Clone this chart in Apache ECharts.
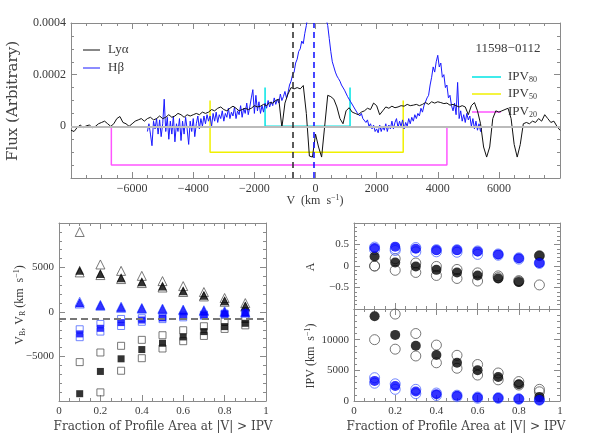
<!DOCTYPE html>
<html>
<head>
<meta charset="utf-8">
<script src="https://cdn.jsdelivr.net/npm/echarts@6/dist/echarts.min.js"></script>
<style>
html, body { margin: 0; padding: 0; background: #fff; }
#chart { width: 589px; height: 445px; }
</style>
</head>
<body>
<div id="chart"></div>
<script>
// ---- top panel: spectra (flux in units of 1e-4) ----
var lyaStart = -8000, lyaStep = 100;
var lyaFlux = [
  // -8000 .. -7100
  -0.15, -0.2, -0.05, 0.05, -0.05, 0.02, 0.05, -0.05, 0.0, 0.1,
  // -7000 .. -6100
  0.15, 0.2, 0.1, 0.0, 0.1, 0.3, 0.38, 0.15, 0.1, 0.0,
  // -6000 .. -5100
  0.1, 0.2, 0.25, 0.3, 0.2, 0.3, 0.35, 0.25, 0.3, 0.4,
  // -5000 .. -4100
  0.3, 0.35, 0.45, 0.35, 0.4, 0.5, 0.45, 0.35, 0.45, 0.4,
  // -4000 .. -3100
  0.45, 0.5, 0.45, 0.55, 0.5, 0.55, 0.65, 0.6, 0.7, 0.75,
  // -3000 .. -2100
  0.65, 0.6, 0.7, 0.78, 0.7, 0.6, 0.65, 0.7, 0.65, 0.7,
  // -2000 .. -1100
  0.8, 0.75, 0.78, 0.85, 0.8, 0.92, 0.9, 1.0, 1.05, -0.05,
  // -1000 .. -100
  0.9, 1.25, 1.5, 1.45, 1.5, 1.45, 1.58, 0.5, -1.15, -1.19,
  // 0 .. 900
  -0.3, -0.8, -1.19, 0.0, 1.2, 1.15, 1.05, 0.75, 0.3, 0.1,
  // 1000 .. 1900
  0.6, 0.72, 0.55, 0.5, 0.45, 0.55, 0.6, 0.7, 0.65, 0.9,
  // 2000 .. 2900
  0.8, 0.45, 0.6, 0.75, 0.7, 0.78, 0.72, 0.75, 0.8, 0.78,
  // 3000 .. 3900
  0.85, 0.8, 0.82, 0.85, 0.8, 0.85, 0.92, 0.85, 0.95, 0.9,
  // 4000 .. 4900
  0.95, 0.92, 0.88, 0.9, 0.82, 0.85, 0.8, 0.75, 0.8, 0.75,
  // 5000 .. 5900
  0.45, 0.8, 0.92, 0.6, 0.1, -0.8, -1.19, -0.8, 0.3, 0.6,
  // 6000 .. 6900
  0.55, 0.6, 0.65, 0.7, 0.3, -0.7, -1.19, -0.7, 0.1, 0.15,
  // 7000 .. 7900
  0.1, 0.2, 0.15, 0.3, 0.2, 0.45, 0.3, 0.15, 0.2, 0.0,
  // 8000
  -0.15
];

var hbStart = -5500, hbStep = 50;
var hbFlux = [
  // -5500 .. -5050
  -0.2, 0.1, -0.3, -0.75, 0.2, -0.1, 0.3, -0.3, 0.25, -0.4,
  // -5000 .. -4550
  0.1, 1.05, -0.2, 0.35, -0.5, 0.2, -0.3, 0.4, -0.6, 0.1,
  // -4500 .. -4050
  -0.2, 0.3, -0.55, 0.2, -0.3, 0.35, -0.1, -0.7, 0.2, -0.2,
  // -4000 .. -3550
  0.3, -0.4, 0.1, 0.4, -0.1, 0.3, 0.0, 0.4, 0.1, 0.45,
  // -3500 .. -3050
  0.2, 0.4, 0.0, 0.5, 0.2, 0.55, 0.15, 0.45, 0.3, 0.6,
  // -3000 .. -2550
  0.2, 0.5, 0.35, 0.7, 0.3, 0.55, 0.4, 0.75, 0.3, 0.6,
  // -2500 .. -2050
  0.45, 0.8, 0.35, 0.7, 0.5, 0.9, 0.45, 0.75, 1.1, 1.42,
  // -2000 .. -1550
  0.5, 1.2, 0.6, 0.95, 0.5, 0.8, 0.55, 0.9, 0.7, 1.0,
  // -1500 .. -1050
  0.75, 0.95, 0.8, 1.1, 0.85, 1.05, 0.9, 1.25, 1.0, 1.15,
  // -1000 .. -550
  1.35, 1.1, 1.3, 1.6, 1.75, 2.0, 2.1, 2.45, 2.6, 2.9,
  // -500 .. -50
  3.0, 3.3, 3.2, 3.6, 3.9, 4.3, 4.8, 5.2, 5.5, 5.7,
  // 0 .. 450
  5.8, 5.7, 5.5, 5.3, 5.0, 4.7, 4.4, 4.15, 3.9, 3.4,
  // 500 .. 950
  2.9, 2.5, 2.3, 2.1, 1.95, 1.85, 1.75, 1.6, 1.55, 1.4,
  // 1000 .. 1450
  1.35, 1.15, 1.1, 0.95, 0.9, 0.75, 0.7, 0.55, 0.6, 0.4,
  // 1500 .. 1950
  0.5, 0.3, 0.35, 0.15, 0.25, 0.0, 0.1, -0.1, 0.05, -0.2,
  // 2000 .. 2450
  -0.1, -0.25, 0.05, -0.2, 0.0, -0.15, 0.1, -0.2, 0.05, -0.1,
  // 2500 .. 2950
  0.2, -0.1, 0.15, 0.3, -0.05, 0.2, 0.0, 0.25, -0.1, 0.15,
  // 3000 .. 3450
  0.0, 0.3, 0.1, 0.35, 0.2, 0.45, 0.3, 0.5, 0.4, 0.7,
  // 3500 .. 3950
  0.55, 0.8, 0.75, 1.1, 1.2, 1.6, 1.9, 2.3, 2.1, 2.5,
  // 4000 .. 4450
  2.75, 2.3, 2.45, 1.9, 2.0, 1.5, 1.6, 1.1, 1.2, 0.8,
  // 4500 .. 4950
  0.6, 0.9, 0.45, 1.7, 0.3, 0.6, 0.2, 0.45, 0.15, 0.5,
  // 5000 .. 5450
  0.25, 0.4, 0.0, 0.3, -0.1, 0.2, -0.15, 0.1, -0.2, 0.0
];

// IPV brackets (80, 50, 20 per cent)
var ipvNames = ['80', '50', '20'];
var ipvColors = ['#00e5e5', '#f0f000', '#ff55ff'];
var ipvBlue = [-1650, -3450, -6680];
var ipvRed = [1130, 2870, 4300];
var ipvBase = [0, -1.0, -1.5];
var ipvTop = [1.5, 1.0, 0];

var lyaCentroid = -740;
var hbCentroid = -50;

// ---- bottom panels ----
var frac = [0.1, 0.2, 0.3, 0.4, 0.5, 0.6, 0.7, 0.8, 0.9];

var lyaVR = [4700, 4330, 3840, 3390, 2910, 2390, 1870, 1270, 670];
var lyaVRhi = [8990, 5340, 4620, 4060, 3470, 2910, 2240, 1570, 1000];
var lyaVRlo = [4450, 4150, 3700, 3250, 2750, 2250, 1750, 1150, 600];
var lyaVB = [-9180, -6680, -5260, -4220, -3510, -2800, -2200, -1640, -1270];
var lyaVBhi = [-5630, -4550, -3800, -3130, -2610, -2050, -1600, -1080, -780];
var lyaVBlo = [-11500, -9030, -6600, -5190, -4100, -3280, -2690, -1900, -1500];

var hbVR = [1040, 750, 520, 410, 340, 220, 150, 40, -40];
var hbVRhi = [1150, 800, 600, 450, 380, 280, 200, 100, 20];
var hbVRlo = [950, 700, 470, 370, 300, 180, 100, 0, -80];
var hbVB = [-2460, -1830, -1190, -900, -670, -480, -340, -220, -70];
var hbVBhi = [-1940, -1340, -780, -700, -550, -400, -280, -180, -40];
var hbVBlo = [-2830, -2200, -1570, -1100, -800, -600, -420, -280, -120];

var lyaA = [0.22, 0.08, -0.01, -0.09, -0.15, -0.22, -0.29, -0.37, 0.24];
var lyaA1 = [0.0, 0.17, 0.07, -0.01, -0.08, -0.16, -0.23, -0.34, -0.44];
var lyaA2 = [0.0, -0.10, -0.15, -0.22, -0.29, -0.35, -0.27, -0.36, 0.24];
var hbA = [0.42, 0.45, 0.40, 0.37, 0.37, 0.34, 0.27, 0.18, 0.07];
var hbA1 = [0.44, 0.40, 0.43, 0.38, 0.38, 0.35, 0.28, 0.19, 0.08];
var hbA2 = [0.38, 0.36, 0.33, 0.33, 0.32, 0.27, 0.25, 0.16, 0.06];

var lyaIPV = [13830, 10780, 9000, 7500, 6230, 5000, 3900, 2730, 670];
var lyaIPV1 = [17000, 14170, 11000, 9120, 7450, 5950, 4570, 3170, 1900];
var lyaIPV2 = [10000, 8450, 7340, 6230, 5340, 4230, 3450, 2600, 1500];
var hbIPV = [3280, 2450, 1560, 1120, 840, 560, 500, 330, 170];
var hbIPV1 = [3800, 2800, 1900, 1300, 950, 650, 550, 380, 200];
var hbIPV2 = [2900, 1900, 1200, 900, 700, 450, 420, 280, 130];

var FONT = 'Liberation Serif';
var WIDE = 'DejaVu Serif';
var TXT = '#3a3a3a';
var FRAME = '#8a8a8a';

function minus(v) { return String(v).replace('-', '\u2212'); }

function axis(o) {
  return {
    type: 'value', gridIndex: o.grid, position: o.pos,
    min: o.min, max: o.max, interval: o.interval,
    axisLine: { show: true, onZero: false, lineStyle: { color: FRAME, width: 1 } },
    axisTick: { show: true, inside: true, length: 6, lineStyle: { color: FRAME } },
    minorTick: { show: true, splitNumber: o.minor, length: 3, lineStyle: { color: FRAME } },
    splitLine: { show: false },
    axisLabel: {
      show: !!o.labels, color: TXT, fontFamily: FONT, fontSize: o.fs || 11, margin: 5,
      showMinLabel: o.showMin !== false, showMaxLabel: o.showMax !== false,
      formatter: o.fmt || minus
    }
  };
}

function pts(ys) { return frac.map(function (f, i) { return [f, ys[i]]; }); }
function grid(xs, ys) {
  return xs.map(function (x, i) { return [x, ys[i]]; });
}

var lyaVel = lyaFlux.map(function (_, i) { return lyaStart + i * lyaStep; });
var hbVel = hbFlux.map(function (_, i) { return hbStart + i * hbStep; });

var series = [];

// IPV brackets
ipvNames.forEach(function (n, i) {
  series.push({
    type: 'line', xAxisIndex: 0, yAxisIndex: 0, symbol: 'none', silent: true,
    lineStyle: { color: ipvColors[i], width: 1.5 },
    data: [[ipvBlue[i], ipvTop[i]], [ipvBlue[i], ipvBase[i]], [ipvRed[i], ipvBase[i]], [ipvRed[i], ipvTop[i]]],
    z: 1
  });
});

series.push({
  type: 'line', xAxisIndex: 0, yAxisIndex: 0, symbol: 'none', name: 'Hb',
  lineStyle: { color: '#1a1aff', width: 1 }, data: grid(hbVel, hbFlux), z: 3,
  markLine: {
    silent: true, symbol: 'none', label: { show: false },
    lineStyle: { color: '#1a1aff', type: [6, 4], width: 1.6 },
    data: [{ xAxis: hbCentroid }]
  }
});
series.push({
  type: 'line', xAxisIndex: 0, yAxisIndex: 0, symbol: 'none', name: 'Lya',
  lineStyle: { color: '#111', width: 1 }, data: grid(lyaVel, lyaFlux), z: 4,
  markLine: {
    silent: true, symbol: 'none', label: { show: false },
    data: [
      { yAxis: 0, lineStyle: { color: '#bbbbbb', type: 'solid', width: 2 } },
      { xAxis: lyaCentroid, lineStyle: { color: '#333', type: [6, 4], width: 1.6 } }
    ]
  }
});

function scat(xi, yi, ys, sym, size, filled, color, z) {
  return {
    type: 'scatter', xAxisIndex: xi, yAxisIndex: yi, symbol: sym, symbolSize: size,
    data: pts(ys), z: z || 2, silent: true,
    itemStyle: filled ? { color: color, borderWidth: 0 }
                      : { color: 'rgba(0,0,0,0)', borderColor: color, borderWidth: 1 }
  };
}

var OPEN_K = '#555', BLUE = '#0000ff', OPEN_B = '#4d66ff';
// bottom-left: V_B (squares), V_R (triangles)
series.push(scat(2, 2, lyaVRhi, 'triangle', 9, false, OPEN_K));
series.push(scat(2, 2, lyaVRlo, 'triangle', 9, false, OPEN_K));
series.push(scat(2, 2, lyaVR, 'triangle', 9, true, '#000', 3));
series.push(scat(2, 2, lyaVBhi, 'rect', 7, false, OPEN_K));
series.push(scat(2, 2, lyaVBlo, 'rect', 7, false, OPEN_K));
series.push(scat(2, 2, lyaVB, 'rect', 7, true, '#000', 3));
series.push(scat(2, 2, hbVRhi, 'triangle', 9, false, OPEN_B));
series.push(scat(2, 2, hbVRlo, 'triangle', 9, false, OPEN_B));
series.push(scat(2, 2, hbVR, 'triangle', 9, true, BLUE, 3));
series.push(scat(2, 2, hbVBhi, 'rect', 7, false, OPEN_B));
series.push(scat(2, 2, hbVBlo, 'rect', 7, false, OPEN_B));
series.push(scat(2, 2, hbVB, 'rect', 7, true, BLUE, 3));
series[series.length - 1].markLine = {
  silent: true, symbol: 'none', label: { show: false },
  lineStyle: { color: '#777', type: [7, 4], width: 2 },
  data: [{ yAxis: lyaCentroid }]
};

// bottom-right: asymmetry A
series.push(scat(4, 4, lyaA1, 'circle', 10, false, OPEN_K));
series.push(scat(4, 4, lyaA2, 'circle', 10, false, OPEN_K));
series.push(scat(4, 4, lyaA, 'circle', 10, true, '#000', 3));
series.push(scat(4, 4, hbA1, 'circle', 10, false, OPEN_B));
series.push(scat(4, 4, hbA2, 'circle', 10, false, OPEN_B));
series.push(scat(4, 4, hbA, 'circle', 10, true, BLUE, 3));
// bottom-right: IPV
series.push(scat(6, 6, lyaIPV1, 'circle', 10, false, OPEN_K));
series.push(scat(6, 6, lyaIPV2, 'circle', 10, false, OPEN_K));
series.push(scat(6, 6, lyaIPV, 'circle', 10, true, '#000', 3));
series.push(scat(6, 6, hbIPV1, 'circle', 10, false, OPEN_B));
series.push(scat(6, 6, hbIPV2, 'circle', 10, false, OPEN_B));
series.push(scat(6, 6, hbIPV, 'circle', 10, true, BLUE, 3));

var fluxFmt = function (v) { return v === 0 ? '0' : minus((v * 1e-4).toFixed(4)); };

var option = {
  animation: false,
  backgroundColor: '#fff',
  grid: [
    { left: 71, top: 23, width: 489, height: 155, outerBoundsMode: 'none' },
    { left: 59, top: 223, width: 207, height: 178, outerBoundsMode: 'none' },
    { left: 354, top: 223, width: 206, height: 86, outerBoundsMode: 'none' },
    { left: 354, top: 309, width: 206, height: 92, outerBoundsMode: 'none' }
  ],
  xAxis: [
    axis({ grid: 0, pos: 'bottom', min: -8000, max: 8000, interval: 2000, minor: 4, labels: true, fs: 12, showMin: false, showMax: false }),
    axis({ grid: 0, pos: 'top', min: -8000, max: 8000, interval: 2000, minor: 4 }),
    axis({ grid: 1, pos: 'bottom', min: 0, max: 1, interval: 0.2, minor: 4, labels: true }),
    axis({ grid: 1, pos: 'top', min: 0, max: 1, interval: 0.2, minor: 4 }),
    axis({ grid: 2, pos: 'bottom', min: 0, max: 1, interval: 0.2, minor: 4 }),
    axis({ grid: 2, pos: 'top', min: 0, max: 1, interval: 0.2, minor: 4 }),
    axis({ grid: 3, pos: 'bottom', min: 0, max: 1, interval: 0.2, minor: 4, labels: true }),
    axis({ grid: 3, pos: 'top', min: 0, max: 1, interval: 0.2, minor: 4 })
  ],
  yAxis: [
    axis({ grid: 0, pos: 'left', min: -2, max: 4, interval: 2, minor: 4, labels: true, fs: 12, showMin: false, fmt: fluxFmt }),
    axis({ grid: 0, pos: 'right', min: -2, max: 4, interval: 2, minor: 4 }),
    axis({ grid: 1, pos: 'left', min: -10000, max: 10000, interval: 5000, minor: 5, labels: true, showMin: false, showMax: false }),
    axis({ grid: 1, pos: 'right', min: -10000, max: 10000, interval: 5000, minor: 5 }),
    axis({ grid: 2, pos: 'left', min: -1, max: 1, interval: 0.5, minor: 5, labels: true, showMin: false, showMax: false }),
    axis({ grid: 2, pos: 'right', min: -1, max: 1, interval: 0.5, minor: 5 }),
    axis({ grid: 3, pos: 'left', min: 0, max: 15000, interval: 5000, minor: 5, labels: true, showMax: false }),
    axis({ grid: 3, pos: 'right', min: 0, max: 15000, interval: 5000, minor: 5 })
  ],
  series: series,
  graphic: [
    { type: 'text', x: 13, y: 101, rotation: Math.PI / 2,
      style: { text: 'Flux (Arbitrary)', fontFamily: WIDE, fontSize: 15, fill: '#444', align: 'center', verticalAlign: 'middle' } },
    { type: 'text', x: 315, y: 201,
      style: { text: '{a|V  (km  s}{s|\u22121}{a|)}', align: 'center', verticalAlign: 'middle',
        rich: { a: { fontFamily: FONT, fontSize: 12, fill: TXT }, s: { fontFamily: FONT, fontSize: 8, fill: TXT, padding: [0, 0, 7, 0] } } } },
    // legend Lya / Hb
    { type: 'line', shape: { x1: 83, y1: 50, x2: 100, y2: 50 }, style: { stroke: '#111', lineWidth: 1 } },
    { type: 'line', shape: { x1: 83, y1: 68, x2: 100, y2: 68 }, style: { stroke: '#1a1aff', lineWidth: 1 } },
    { type: 'text', x: 108, y: 50, style: { text: 'Ly\u03b1', fontFamily: FONT, fontSize: 13, fill: TXT, verticalAlign: 'middle' } },
    { type: 'text', x: 108, y: 68, style: { text: 'H\u03b2', fontFamily: FONT, fontSize: 13, fill: TXT, verticalAlign: 'middle' } },
    { type: 'text', x: 508, y: 49, style: { text: '11598\u22120112', fontFamily: FONT, fontSize: 13, fill: TXT, align: 'center', verticalAlign: 'middle' } },
    // IPV legend
    { type: 'line', shape: { x1: 472, y1: 77, x2: 501, y2: 77 }, style: { stroke: ipvColors[0], lineWidth: 1.5 } },
    { type: 'line', shape: { x1: 472, y1: 94, x2: 501, y2: 94 }, style: { stroke: ipvColors[1], lineWidth: 1.5 } },
    { type: 'line', shape: { x1: 472, y1: 112, x2: 501, y2: 112 }, style: { stroke: ipvColors[2], lineWidth: 1.5 } },
    { type: 'text', x: 508, y: 77, style: { text: '{a|IPV}{b|80}', verticalAlign: 'middle',
      rich: { a: { fontFamily: FONT, fontSize: 13, fill: TXT }, b: { fontFamily: FONT, fontSize: 8, fill: TXT, padding: [6, 0, 0, 0] } } } },
    { type: 'text', x: 508, y: 94, style: { text: '{a|IPV}{b|50}', verticalAlign: 'middle',
      rich: { a: { fontFamily: FONT, fontSize: 13, fill: TXT }, b: { fontFamily: FONT, fontSize: 8, fill: TXT, padding: [6, 0, 0, 0] } } } },
    { type: 'text', x: 508, y: 112, style: { text: '{a|IPV}{b|20}', verticalAlign: 'middle',
      rich: { a: { fontFamily: FONT, fontSize: 13, fill: TXT }, b: { fontFamily: FONT, fontSize: 8, fill: TXT, padding: [6, 0, 0, 0] } } } },
    // bottom-left axis titles
    { type: 'text', x: 20, y: 305, rotation: Math.PI / 2,
      style: { text: '{a|V}{b|B}{a|, V}{b|R}{a| (km  s}{s|\u22121}{a|)}', align: 'center', verticalAlign: 'middle',
        rich: { a: { fontFamily: FONT, fontSize: 12, fill: TXT }, b: { fontFamily: FONT, fontSize: 8, fill: TXT, padding: [6, 0, 0, 0] },
                s: { fontFamily: FONT, fontSize: 8, fill: TXT, padding: [0, 0, 7, 0] } } } },
    { type: 'text', x: 163, y: 427,
      style: { text: 'Fraction of Profile Area at |V| > IPV', fontFamily: WIDE, fontSize: 12, fill: '#444', align: 'center', verticalAlign: 'middle' } },
    // bottom-right axis titles
    { type: 'text', x: 311, y: 267, rotation: Math.PI / 2,
      style: { text: 'A', fontFamily: FONT, fontSize: 12, fill: TXT, align: 'center', verticalAlign: 'middle' } },
    { type: 'text', x: 311, y: 356, rotation: Math.PI / 2,
      style: { text: '{a|IPV (km  s}{s|\u22121}{a|)}', align: 'center', verticalAlign: 'middle',
        rich: { a: { fontFamily: FONT, fontSize: 12, fill: TXT }, s: { fontFamily: FONT, fontSize: 8, fill: TXT, padding: [0, 0, 7, 0] } } } },
    { type: 'text', x: 456, y: 427,
      style: { text: 'Fraction of Profile Area at |V| > IPV', fontFamily: WIDE, fontSize: 12, fill: '#444', align: 'center', verticalAlign: 'middle' } }
  ]
};

var chart = echarts.init(document.getElementById('chart'), null, { renderer: 'canvas' });
chart.setOption(option);
</script>
</body>
</html>
